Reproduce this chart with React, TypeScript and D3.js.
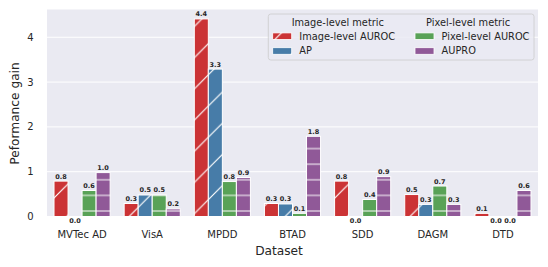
import React, { useRef, useEffect } from 'react';
import * as d3 from 'd3';

const datasets = ['MVTec AD', 'VisA', 'MPDD', 'BTAD', 'SDD', 'DAGM', 'DTD'];
const metrics = ['Image-level AUROC', 'AP', 'Pixel-level AUROC', 'AUPRO'];
const imageAuroc = [0.79, 0.29, 4.41, 0.29, 0.79, 0.49, 0.07];
const ap = [0.0, 0.48, 3.29, 0.28, 0.0, 0.27, 0.0];
const pixelAuroc = [0.58, 0.48, 0.78, 0.07, 0.38, 0.68, 0.0];
const aupro = [0.98, 0.17, 0.87, 1.79, 0.89, 0.27, 0.58];
const yTicks = [0, 1, 2, 3, 4];
const legendTitles = ['Image-level metric', 'Pixel-level metric'];

const W = 548;
const H = 267;
const FONT = 'DejaVu Sans, sans-serif';
const TXT = '#262626';

const App = () => {
  const svgRef = useRef<SVGSVGElement>(null);

  useEffect(() => {
    const svg = d3.select(svgRef.current).attr('width', W).attr('height', H);
    svg.selectAll('*').remove();

    const series = [imageAuroc, ap, pixelAuroc, aupro];
    const colors = ['#CB3335', '#477CA8', '#59A257', '#905998'];
    const hatchType = ['diag', 'diag', 'horiz', 'horiz'];

    const x = d3.scaleBand<string>().domain(datasets).range([47, 538]).paddingInner(0);
    const xSub = d3
      .scaleBand<string>()
      .domain(metrics)
      .range([x.bandwidth() * 0.1, x.bandwidth() * 0.9]);
    const y = d3.scaleLinear().domain([0, 4.62]).range([216.5, 9.5]);

    // hatch patterns, anchored to the page like matplotlib does
    const defs = svg.append('defs');
    const P = 31.2;
    const HP = 15.6;
    colors.forEach((c, i) => {
      const pat = defs.append('pattern').attr('id', `hatch${i}`).attr('patternUnits', 'userSpaceOnUse');
      if (hatchType[i] === 'diag') {
        pat.attr('x', 2.4).attr('y', 0).attr('width', P).attr('height', P);
        pat.append('rect').attr('width', P).attr('height', P).attr('fill', c);
        pat
          .append('path')
          .attr('d', `M-2,2L2,-2M0,${P}L${P},0M${P - 2},${P + 2}L${P + 2},${P - 2}`)
          .attr('stroke', 'white')
          .attr('stroke-width', 1.2);
      } else {
        pat.attr('x', 0).attr('y', 8.2).attr('width', 10).attr('height', HP);
        pat.append('rect').attr('width', 10).attr('height', HP).attr('fill', c);
        pat
          .append('path')
          .attr('d', `M0,0L10,0M0,${HP}L10,${HP}`)
          .attr('stroke', 'white')
          .attr('stroke-width', 1.2);
      }
    });

    // background + grid
    svg.append('rect').attr('x', 47).attr('y', 9.5).attr('width', 491).attr('height', 207).attr('fill', '#EAEAF2');
    svg
      .selectAll('.grid')
      .data(yTicks)
      .enter()
      .append('line')
      .attr('x1', 47)
      .attr('x2', 538)
      .attr('y1', d => y(d))
      .attr('y2', d => y(d))
      .attr('stroke', 'white')
      .attr('stroke-width', 1);

    // bars
    const flat: { ds: string; m: string; i: number; v: number }[] = [];
    series.forEach((vals, i) => vals.forEach((v, j) => flat.push({ ds: datasets[j], m: metrics[i], i, v })));

    svg
      .selectAll('.bar')
      .data(flat)
      .enter()
      .append('rect')
      .attr('x', d => (x(d.ds) as number) + (xSub(d.m) as number))
      .attr('width', xSub.bandwidth())
      .attr('y', d => y(Math.max(d.v, 0)))
      .attr('height', d => Math.abs(y(0) - y(d.v)))
      .attr('fill', d => `url(#hatch${d.i})`)
      .attr('stroke', 'white')
      .attr('stroke-width', d => (d.v > 0 ? 1 : 0));

    svg
      .selectAll('.lbl')
      .data(flat)
      .enter()
      .append('text')
      .attr('x', d => (x(d.ds) as number) + (xSub(d.m) as number) + xSub.bandwidth() / 2)
      .attr('y', d => (d.v > 0 ? y(d.v) - 2.5 : y(0) + 6.2))
      .attr('text-anchor', 'middle')
      .attr('font-family', FONT)
      .attr('font-weight', 'bold')
      .attr('font-size', 6.5)
      .attr('fill', TXT)
      .text(d => d.v.toFixed(1));

    // axes text
    svg
      .selectAll('.ytick')
      .data(yTicks)
      .enter()
      .append('text')
      .attr('x', 33.5)
      .attr('y', d => y(d))
      .attr('dy', '0.36em')
      .attr('text-anchor', 'end')
      .attr('font-family', FONT)
      .attr('font-size', 10)
      .attr('fill', TXT)
      .text(d => d);

    svg
      .selectAll('.xtick')
      .data(datasets)
      .enter()
      .append('text')
      .attr('x', d => (x(d) as number) + x.bandwidth() / 2)
      .attr('y', 237.6)
      .attr('text-anchor', 'middle')
      .attr('font-family', FONT)
      .attr('font-size', 10)
      .attr('fill', TXT)
      .text(d => d);

    svg
      .append('text')
      .attr('x', 279)
      .attr('y', 255)
      .attr('text-anchor', 'middle')
      .attr('font-family', FONT)
      .attr('font-size', 12.2)
      .attr('fill', TXT)
      .text('Dataset');

    svg
      .append('text')
      .attr('transform', 'translate(18.5,113.5) rotate(-90)')
      .attr('text-anchor', 'middle')
      .attr('font-family', FONT)
      .attr('font-size', 12.2)
      .attr('fill', TXT)
      .text('Peformance gain');

    // legend
    const lg = svg.append('g');
    lg.append('rect')
      .attr('x', 268.3)
      .attr('y', 14)
      .attr('width', 265.7)
      .attr('height', 46)
      .attr('rx', 2.5)
      .attr('fill', '#EAEAF2')
      .attr('fill-opacity', 0.8)
      .attr('stroke', '#CCCCCC')
      .attr('stroke-width', 0.8);

    const colX = [272.7, 415];
    const titleX = [291.7, 426];
    legendTitles.forEach((t, c) => {
      lg.append('text')
        .attr('x', titleX[c])
        .attr('y', 26)
        .attr('font-family', FONT)
        .attr('font-size', 9.8)
        .attr('fill', TXT)
        .text(t);
    });
    metrics.forEach((m, i) => {
      const col = Math.floor(i / 2);
      const row = i % 2;
      const cy = row === 0 ? 36.2 : 51;
      lg.append('rect')
        .attr('x', colX[col])
        .attr('y', cy - 3.3)
        .attr('width', 19)
        .attr('height', 6.6)
        .attr('fill', hatchType[i] === 'diag' ? `url(#hatch${i})` : colors[i])
        .attr('stroke', 'white')
        .attr('stroke-width', 0.8);
      lg.append('text')
        .attr('x', colX[col] + 26.6)
        .attr('y', row === 0 ? 40 : 54.3)
        .attr('font-family', FONT)
        .attr('font-size', 9.8)
        .attr('fill', TXT)
        .text(m);
    });
  }, []);

  return <svg ref={svgRef} style={{ position: 'absolute', left: 0, top: 0, background: 'white' }}></svg>;
};

export default App;
